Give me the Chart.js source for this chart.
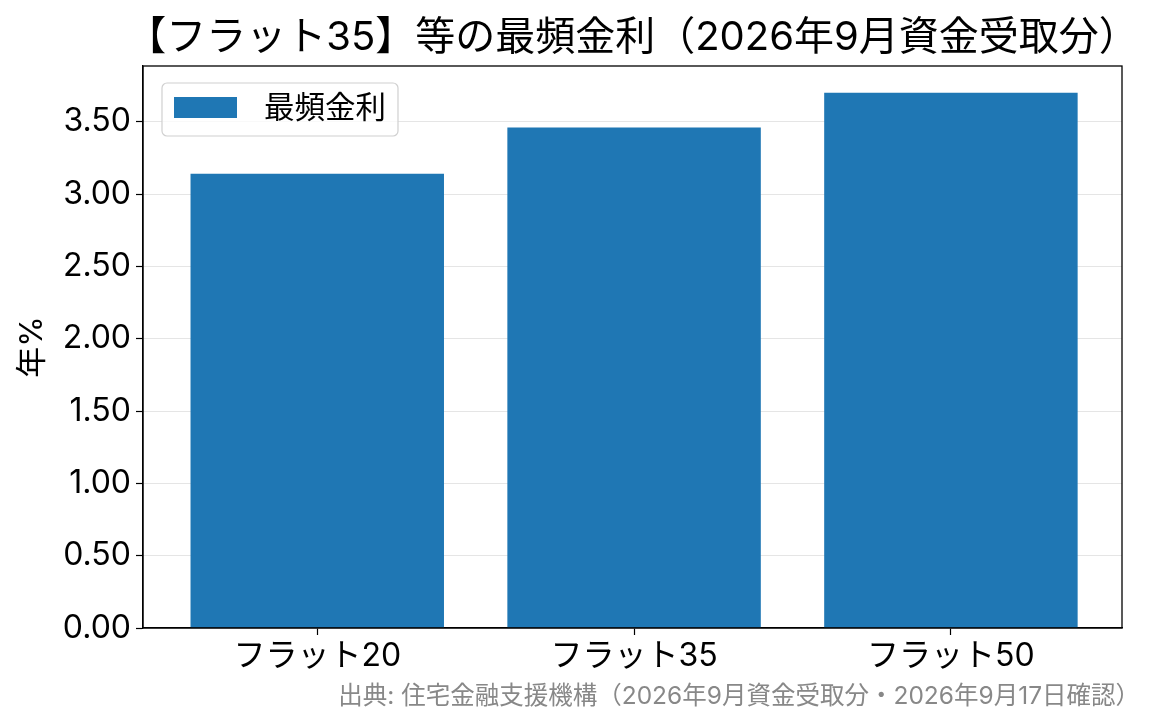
<!DOCTYPE html>
<html>
<head>
<meta charset="utf-8">
<script src="https://cdn.jsdelivr.net/npm/chart.js@4/dist/chart.umd.min.js"></script>
<style>
  html, body { margin: 0; padding: 0; background: #fff; }
  #wrap { width: 1165px; height: 725px; }
</style>
</head>
<body>
<div id="wrap"><canvas id="chart"></canvas></div>
<script>
  const categories = ['フラット20', 'フラット35', 'フラット50'];
  const rates = [3.14, 3.46, 3.70];
  const yTicks = [0, 0.5, 1.0, 1.5, 2.0, 2.5, 3.0, 3.5];
  const seriesLabel = '最頻金利';
  const titleText = '【フラット35】等の最頻金利（2026年9月資金受取分）';
  const yTitle = '年%';
  const sourceText = '出典: 住宅金融支援機構（2026年9月資金受取分・2026年9月17日確認）';

  const FONT = 'Inter, "Noto Sans CJK JP", sans-serif';
  const BLUE = '#1f77b4';

  // frame, title, legend and source note
  const decorations = {
    id: 'decorations',
    afterDraw(chart) {
      const ctx = chart.ctx;
      const a = chart.chartArea;
      ctx.save();

      ctx.strokeStyle = '#000';
      ctx.lineWidth = 1.3;
      ctx.strokeRect(a.left, a.top, a.right - a.left, a.bottom - a.top);

      ctx.fillStyle = '#000';
      ctx.font = '40px ' + FONT;
      ctx.textAlign = 'center';
      ctx.textBaseline = 'middle';
      ctx.fillText(titleText, (a.left + a.right) / 2, 38);

      // legend box
      const lx = 162, ly = 83, lw = 236, lh = 53;
      ctx.fillStyle = 'rgba(255,255,255,0.8)';
      ctx.strokeStyle = '#d0d0d0';
      ctx.lineWidth = 1.2;
      ctx.beginPath();
      ctx.roundRect(lx, ly, lw, lh, 5);
      ctx.fill();
      ctx.stroke();
      ctx.fillStyle = BLUE;
      ctx.fillRect(lx + 12, ly + 14, 63, 21);
      ctx.fillStyle = '#000';
      ctx.font = '30.5px ' + FONT;
      ctx.textAlign = 'left';
      ctx.fillText(chart.data.datasets[0].label, lx + 102, ly + 26);

      ctx.fillStyle = '#888';
      ctx.font = '24.5px ' + FONT;
      ctx.textAlign = 'right';
      ctx.fillText(sourceText, 1140, 697);
      ctx.restore();
    }
  };

  new Chart(document.getElementById('chart'), {
    type: 'bar',
    data: {
      datasets: [{
        label: seriesLabel,
        data: rates.map((v, i) => ({ x: i, y: v })),
        backgroundColor: BLUE,
        borderWidth: 0,
        barPercentage: 0.8,
        categoryPercentage: 1.0
      }]
    },
    options: {
      responsive: true,
      maintainAspectRatio: false,
      animation: false,
      devicePixelRatio: 1,
      layout: { padding: { left: 0, right: 43, top: 66, bottom: 0 } },
      plugins: {
        legend: { display: false },
        tooltip: { enabled: false },
        title: { display: false }
      },
      scales: {
        x: {
          type: 'linear',
          min: -0.55,
          max: 2.54,
          offset: false,
          afterBuildTicks: s => { s.ticks = categories.map((c, i) => ({ value: i })); },
          afterFit: s => { s.height = 97; },
          grid: { offset: false, drawOnChartArea: false, tickLength: 7, tickColor: '#000', tickWidth: 1.2 },
          border: { color: '#000', width: 1.3 },
          ticks: {
            color: '#000',
            padding: 2,
            font: { family: FONT, size: 32 },
            maxRotation: 0,
            callback: v => categories[v] ?? ''
          }
        },
        y: {
          min: 0,
          max: 3.885,
          z: 1,
          afterBuildTicks: s => { s.ticks = yTicks.map(v => ({ value: v })); },
          afterFit: s => { s.width = 143; },
          grid: { color: 'rgba(204,204,204,0.5)', lineWidth: 1, tickLength: 7, tickColor: '#000', tickWidth: 1.2 },
          border: { color: '#000', width: 1.3 },
          ticks: {
            color: '#000',
            padding: 5,
            font: { family: FONT, size: 32 },
            callback: v => Number(v).toFixed(2)
          },
          title: {
            display: true,
            text: yTitle,
            color: '#000',
            font: { family: FONT, size: 31 },
            padding: { top: 14, bottom: 0 }
          }
        }
      }
    },
    plugins: [decorations]
  });
</script>
</body>
</html>
